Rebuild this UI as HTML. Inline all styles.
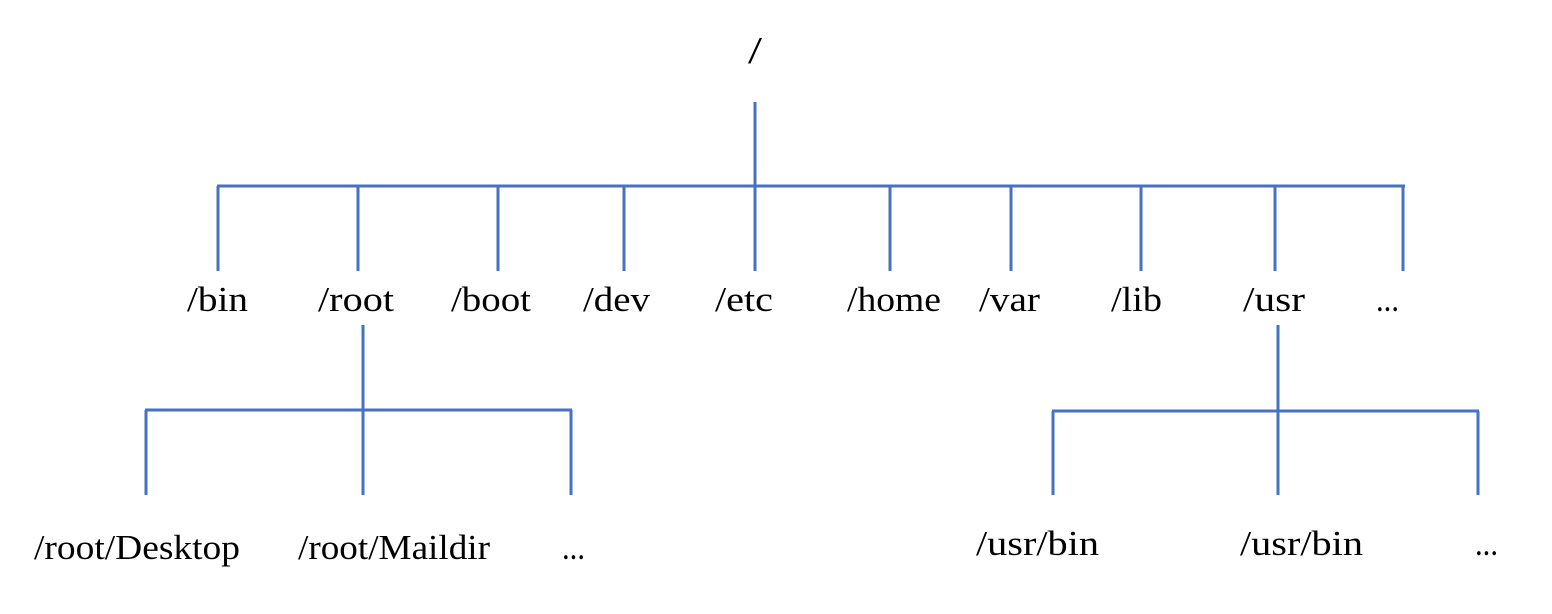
<!DOCTYPE html>
<html><head><meta charset="utf-8"><style>
html,body{margin:0;padding:0;background:#fff;}
svg{display:block}
text{font-family:"Liberation Serif",serif;font-size:35px;fill:#000}
</style></head><body>
<svg width="1552" height="614" viewBox="0 0 1552 614" xmlns="http://www.w3.org/2000/svg">
<g stroke="#4472C4" stroke-width="3" fill="none">
<line x1="755" y1="102" x2="755" y2="186"/>
<line x1="217" y1="186" x2="1405" y2="186"/>
<line x1="218" y1="186" x2="218" y2="271"/>
<line x1="358" y1="186" x2="358" y2="271"/>
<line x1="498" y1="186" x2="498" y2="271"/>
<line x1="624" y1="186" x2="624" y2="271"/>
<line x1="755" y1="186" x2="755" y2="271"/>
<line x1="890" y1="186" x2="890" y2="271"/>
<line x1="1011" y1="186" x2="1011" y2="271"/>
<line x1="1141" y1="186" x2="1141" y2="271"/>
<line x1="1275" y1="186" x2="1275" y2="271"/>
<line x1="1403" y1="186" x2="1403" y2="271"/>
<line x1="363" y1="325" x2="363" y2="495"/>
<line x1="145" y1="410" x2="572" y2="410"/>
<line x1="146" y1="410" x2="146" y2="495"/>
<line x1="571" y1="410" x2="571" y2="495"/>
<line x1="1278" y1="325" x2="1278" y2="495"/>
<line x1="1052" y1="411" x2="1479" y2="411"/>
<line x1="1053" y1="411" x2="1053" y2="495"/>
<line x1="1478" y1="411" x2="1478" y2="495"/>
</g>
<text x="748" y="63" style="font-size:38px" textLength="14" lengthAdjust="spacingAndGlyphs">/</text>
<text x="187" y="311" textLength="61" lengthAdjust="spacingAndGlyphs">/bin</text>
<text x="318" y="311" textLength="76" lengthAdjust="spacingAndGlyphs">/root</text>
<text x="451" y="311" textLength="80" lengthAdjust="spacingAndGlyphs">/boot</text>
<text x="583" y="311" textLength="67" lengthAdjust="spacingAndGlyphs">/dev</text>
<text x="715" y="311" textLength="58" lengthAdjust="spacingAndGlyphs">/etc</text>
<text x="847" y="311" textLength="94" lengthAdjust="spacingAndGlyphs">/home</text>
<text x="979" y="311" textLength="61" lengthAdjust="spacingAndGlyphs">/var</text>
<text x="1111" y="311" textLength="51" lengthAdjust="spacingAndGlyphs">/lib</text>
<text x="1243" y="311" textLength="62" lengthAdjust="spacingAndGlyphs">/usr</text>
<text x="1376" y="311" textLength="23" lengthAdjust="spacingAndGlyphs">...</text>
<text x="34" y="559" textLength="206" lengthAdjust="spacingAndGlyphs">/root/Desktop</text>
<text x="298" y="559" textLength="192" lengthAdjust="spacingAndGlyphs">/root/Maildir</text>
<text x="562" y="559" textLength="23" lengthAdjust="spacingAndGlyphs">...</text>
<text x="976" y="555" textLength="123" lengthAdjust="spacingAndGlyphs">/usr/bin</text>
<text x="1240" y="555" textLength="123" lengthAdjust="spacingAndGlyphs">/usr/bin</text>
<text x="1475" y="555" textLength="23" lengthAdjust="spacingAndGlyphs">...</text>
</svg>
</body></html>
